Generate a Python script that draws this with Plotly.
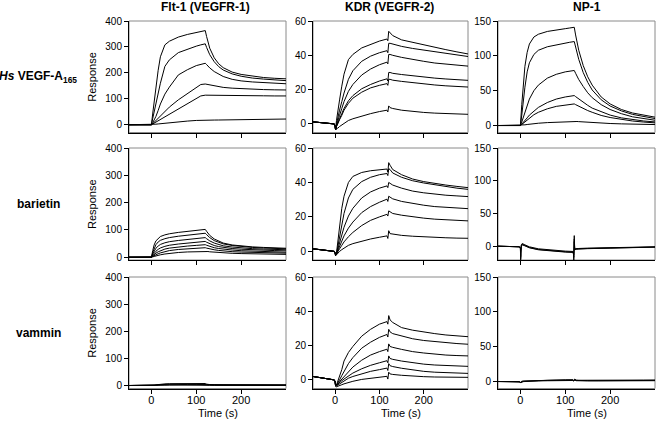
import plotly.graph_objects as go

# ---------------- data ----------------
# time grids (s)
T_SMOOTH = [-50, -10, 0, 3, 6, 10, 15, 20, 30, 40, 60, 80, 100, 110, 120,
            123, 126, 130, 140, 150, 160, 180, 200, 225, 250, 275, 300]
T_KDR = [-50, -40, -30, -20, -10, -2, 0, 1, 3, 6, 10, 15, 20, 30, 40, 60, 80, 100, 117,
         119, 121, 124, 130, 150, 175, 200, 225, 250, 275, 300]
T_NP2 = [-50, -30, -10, -2, 0, 0.5, 1, 2, 4, 10, 20, 40, 60, 80, 100, 117,
         118, 119, 120, 121, 122, 125, 130, 150, 200, 250, 300]

# Flt-1 / Hs VEGF-A165
flt_vegf_1 = [0, 0, 0, 45, 90, 148, 210, 262, 308, 322, 338, 348, 355, 359, 363, 340, 318, 295, 258, 235, 220, 203, 194, 187, 182, 179, 177]
flt_vegf_2 = [0, 0, 0, 25, 50, 85, 125, 160, 225, 250, 278, 292, 303, 308, 312, 298, 285, 270, 243, 224, 211, 196, 187, 180, 176, 173, 170]
flt_vegf_3 = [0, 0, 0, 8, 18, 32, 55, 80, 118, 145, 192, 212, 228, 233, 237, 232, 226, 219, 205, 194, 186, 175, 169, 165, 162, 160, 158]
flt_vegf_4 = [0, 0, 0, 4, 9, 16, 25, 34, 52, 68, 96, 120, 145, 155, 157, 156, 155, 153, 149, 146, 144, 141, 139, 137, 135.5, 134.5, 134]
flt_vegf_5 = [0, 0, 0, 3, 6, 10, 15, 20, 31, 41, 62, 82, 102, 111, 114, 114, 114, 114, 113.5, 113, 113, 112.5, 112, 112, 111.5, 111, 111]
flt_vegf_6 = [0, 0, 0, 0.5, 1, 2, 3, 4, 6, 8, 11, 14, 16.5, 17.5, 18, 18, 18, 18, 18, 18.2, 18.5, 19, 19.5, 20, 20.7, 21.3, 22]

# KDR / Hs VEGF-A165
kdr_base_1 = [1.2, 1.0, 0.6, 0.4, 0.2, 0.0, -1.5, -3.5]
kdr_vegf_1 = [2, 8, 14, 22, 29, 37.5, 40.5, 44.3, 46.3, 48.3, 49.5, 48.5, 54, 53, 51.5, 49, 47.5, 46, 44.5, 43.3, 42, 40.8]
kdr_vegf_2 = [0, 4, 8, 13, 18, 26, 31, 36.5, 39.5, 41.5, 42.7, 41.5, 47, 47, 46.5, 45.2, 44, 43, 42, 41, 40, 39.3]
kdr_vegf_3 = [-1, 2, 5, 9, 13, 19, 23, 28.5, 32, 34.5, 36, 35, 40.5, 40.5, 40, 38.8, 37.5, 36.5, 35.5, 34.8, 34.2, 33.7]
kdr_vegf_4 = [-1.5, 1, 3, 6, 9, 13.5, 16.5, 20.5, 23, 25, 26.3, 25, 30, 30, 29.5, 28.8, 28, 27.3, 26.7, 26.2, 25.8, 25.4]
kdr_vegf_5 = [-1.5, 0.5, 2.5, 5, 8, 12, 15, 18.5, 21, 22.5, 23.5, 22.5, 26, 26, 25.5, 24.8, 24, 23.3, 22.7, 22.2, 21.8, 21.5]
kdr_vegf_6 = [-2.5, -2.5, -1.5, -0.5, 0.5, 2, 3, 4.7, 6, 7.2, 8, 7, 10.5, 9.5, 9, 8, 7.2, 6.7, 6.3, 6, 5.8, 5.6]

# NP-1 / Hs VEGF-A165
np_vegf_1 = [0, 0, 0, 30, 60, 85, 105, 117, 127, 131, 135, 137.5, 139, 140, 141, 130, 120, 108, 86, 70, 58, 41, 31, 23, 18, 14.5, 12]
np_vegf_2 = [0, 0, 0, 15, 35, 55, 77, 90, 102, 108, 113, 116, 118.5, 119.5, 120.5, 112, 104, 95, 76, 62, 51, 37, 28, 21, 16, 12.5, 10]
np_vegf_3 = [0, 0, 0, 5, 11, 19, 29, 38, 50, 58, 68, 73.5, 77, 78, 79, 75, 71, 66, 56, 47, 40, 30, 23, 17, 12.5, 9.5, 7.6]
np_vegf_4 = [0, 0, 0, 2, 4, 7, 11, 15, 21, 26, 33, 38, 41, 42, 43, 41.5, 40, 38, 33, 29, 25, 19.5, 15, 11, 8.5, 6.5, 5.2]
np_vegf_5 = [0, 0, 0, 1.5, 3, 5, 8, 11, 15.5, 19, 24, 27.5, 29.5, 30.3, 31, 30, 29, 27.5, 24.5, 21.5, 19, 14.5, 11.5, 8.5, 6.5, 5, 3.8]
np_vegf_6 = [0, 0, 0, 0.3, 0.6, 1, 1.5, 2, 2.7, 3.3, 4.2, 5, 5.5, 5.8, 6, 5.9, 5.8, 5.6, 5.1, 4.7, 4.2, 3.5, 2.9, 2.4, 2, 1.7, 1.4]

# Flt-1 / barietin
flt_bar_1 = [0, 0, 0, 25, 45, 60, 70, 76, 82, 86, 91, 95, 99, 100.5, 102, 95, 88, 80, 67, 58, 52, 45, 41, 38, 36, 34.5, 33]
flt_bar_2 = [0, 0, 0, 18, 33, 46, 56, 62, 68, 72, 77, 81, 85, 86.5, 88, 83, 78, 72, 61, 54, 49, 43, 39, 36, 34, 32.5, 31]
flt_bar_3 = [0, 0, 0, 12, 23, 33, 41, 47, 53, 57, 61.5, 65, 68.5, 70, 72, 68, 64.5, 60, 52, 46.5, 42, 37.5, 34, 31.5, 30, 28.5, 27.5]
flt_bar_4 = [0, 0, 0, 8, 15, 22, 29, 34, 40, 44, 48.5, 52, 55, 56.5, 58, 55, 52.5, 49, 43, 39, 36, 32, 29.5, 27, 25.5, 24.5, 23.5]
flt_bar_5 = [0, 0, 0, 5, 10, 15, 20, 24, 30, 33.5, 38, 41, 43.5, 45, 46, 44, 42, 39.5, 35, 32, 29.5, 26.5, 24, 22, 20.5, 19.5, 18.5]
flt_bar_6 = [0, 0, 0, 3, 6, 9, 13, 16, 21, 24.5, 28.5, 31, 33, 34, 35, 33.5, 32, 30.5, 27.5, 25, 23, 20.5, 19, 17.5, 16.5, 15.5, 15]
flt_bar_7 = [0, 0, 0, 1.5, 3, 5, 7, 9, 12, 14.5, 17.5, 19.5, 21, 21.5, 22, 21.5, 21, 20, 18.5, 17, 16, 14.5, 13.5, 12.5, 11.5, 11, 10.5]

# KDR / barietin
kdr_base_2 = [1.5, 1.2, 0.6, 0.3, 0.1, 0, -1, -2.3]
kdr_bar_1 = [-1, 6, 16, 25, 32, 40, 43.5, 45.8, 46.8, 47.4, 47.8, 46, 51.5, 50, 47.5, 44.5, 42, 40.5, 39.3, 38.5, 37.7, 37]
kdr_bar_2 = [-1.5, 3, 9, 16, 22, 31, 36, 40.5, 43, 44.5, 45.2, 44, 48, 47.5, 45.5, 43, 41, 39.7, 38.7, 37.5, 36.7, 36]
kdr_bar_3 = [-1.5, 1.5, 5, 10, 14, 20.5, 25, 31, 34.5, 36.7, 38, 37, 40, 39.5, 38.5, 36.7, 35, 34, 33.2, 32.6, 32.2, 31.8]
kdr_bar_4 = [-1.5, 0.5, 3, 6, 9, 13.5, 17, 22.5, 26, 28.5, 30.3, 29, 32, 31.5, 30.5, 29, 27.7, 26.8, 26, 25.5, 25.1, 24.8]
kdr_bar_5 = [-1.5, 0, 1.5, 3.5, 5.5, 8.5, 11, 15, 18, 20, 21.5, 20.5, 23.5, 23, 22, 21, 20, 19.3, 18.7, 18.3, 18, 17.7]
kdr_bar_6 = [-2, -1, 0, 1, 2, 3.5, 4.5, 6, 7.2, 8.2, 9, 7.5, 12, 10.3, 10, 9.3, 8.8, 8.4, 8.1, 7.9, 7.7, 7.6]

# NP-1 / barietin
np_bar_1 = [1, 0.5, 0.3, 0, -3, -22, -10, 3, 5, 3, 0, -3, -4.5, -5.5, -6.5, -7, -8, -20, 17, -4, -3, -2.5, -2.5, -2, -1, -0.5, 0]
np_bar_2 = [1, 0.5, 0.3, 0, -2, -18, -8, 2, 4, 2, -1, -4, -5.5, -6.5, -7.5, -8, -9, -16, 12, -4, -3.5, -3, -3, -2.5, -1.5, -1, -0.3]
np_bar_3 = [1, 0.5, 0.3, 0, -2, -15, -6, 1, 3, 1.5, -1.5, -4.5, -6, -7, -8, -8.5, -9.5, -12, 8, -5, -4, -3.5, -3.3, -2.8, -2, -1.2, -0.5]

# Flt-1 / vammin
flt_vam_1 = [1, 0.5, 0, 1, 2, 3.5, 5, 6, 7, 7.5, 8, 8, 8.2, 8.3, 8.3, 6, 5, 4.5, 4, 3.8, 3.7, 3.5, 3.4, 3.3, 3.2, 3.2, 3.2]
flt_vam_2 = [1, 0.5, 0, 0.8, 1.5, 2.5, 3.5, 4.5, 5.5, 6, 6.5, 6.7, 6.8, 6.9, 7, 5, 4.2, 3.8, 3.4, 3.2, 3.1, 3, 2.9, 2.8, 2.8, 2.8, 2.8]
flt_vam_3 = [1, 0.5, 0, 0.5, 1, 1.7, 2.5, 3, 3.7, 4.2, 4.6, 4.9, 5.1, 5.2, 5.3, 3.8, 3.2, 2.8, 2.5, 2.4, 2.3, 2.2, 2.1, 2.1, 2.1, 2.1, 2.1]
flt_vam_4 = [1, 0.5, 0, 0.3, 0.6, 1, 1.4, 1.8, 2.3, 2.6, 3, 3.2, 3.4, 3.5, 3.6, 2.5, 2, 1.8, 1.6, 1.5, 1.5, 1.4, 1.4, 1.4, 1.4, 1.4, 1.4]

# KDR / vammin
kdr_base_3 = [2, 1.6, 0.8, 0.6, 0.4, 0, -1, -3.5]
kdr_vam_1 = [-3, -1, 2, 6, 11, 16, 19.5, 25.5, 29.5, 32.5, 34, 32.5, 37.5, 35, 33.5, 30.5, 29, 27.9, 27, 26.2, 25.6, 25.2]
kdr_vam_2 = [-3, -2, 0, 2.5, 5, 9.5, 13, 18.5, 22, 24.8, 26.5, 25, 29.5, 28, 27, 25.5, 24, 23, 22.3, 21.7, 21.2, 20.8]
kdr_vam_3 = [-3, -2.5, -1, 0.5, 2, 5, 7.5, 11.5, 14.5, 16.5, 17.9, 16.5, 21, 19.5, 19, 17.8, 16.5, 15.7, 15, 14.5, 14.2, 14]
kdr_vam_4 = [-3, -2.5, -1.5, -0.5, 0.5, 2.5, 4, 6.5, 8.5, 10, 11.2, 10, 14, 12.5, 12, 11, 10, 9.2, 8.7, 8.3, 8, 7.9]
kdr_vam_5 = [-3.5, -3, -2, -1.2, -0.5, 1, 2, 3.7, 5, 6, 6.9, 5.5, 9.5, 8.3, 7.8, 6.8, 5.8, 5, 4.5, 4.2, 4, 3.8]
kdr_vam_6 = [-4, -3.8, -3.3, -2.8, -2.3, -1.5, -0.8, 0.3, 1, 1.6, 2.1, 0.5, 4.5, 3.5, 3.2, 2.7, 2.2, 1.9, 1.7, 1.6, 1.5, 1.5]

# NP-1 / vammin
np_vam_1 = [0, 0, 0, 0, 0, 0, -2, -0.5, 0.5, 0.7, 0.8, 1, 1.2, 1.5, 1.8, 2.1, 2.3, 2.5, 2.6, 1.5, 3.5, 2, 1.8, 1.7, 1.7, 1.8, 1.9, 2, 2.1, 2.2]
np_vam_2 = [0, 0, 0, 0, 0, 0, -1.5, -1, 0, 0.3, 0.5, 0.7, 0.9, 1.2, 1.4, 1.7, 1.9, 2, 2.1, 1, 2.8, 1.6, 1.4, 1.3, 1.3, 1.4, 1.5, 1.5, 1.6, 1.6]
np_vam_3 = [0, 0, 0, 0, 0, 0, -1, -1.5, -0.5, -0.2, 0, 0.3, 0.5, 0.7, 0.9, 1.1, 1.3, 1.4, 1.5, 0.5, 2.2, 1.2, 1, 0.9, 0.9, 1, 1, 1.1, 1.1, 1.2]

col_titles = ["Flt-1 (VEGFR-1)", "KDR (VEGFR-2)", "NP-1"]
row_titles = ["<i>Hs</i> VEGF-A<sub>165</sub>", "barietin", "vammin"]
x_ticks = [0, 100, 200]

# ---------------- layout ----------------
W, H = 656, 421
FONT = "Liberation Sans, Arial, sans-serif"
col_px = [(129, 286), (313, 468), (498, 655)]
row_px = [(21, 132.5), (148, 260), (277, 388.5)]
yranges = [[(-30, 400), (-5, 60), (-10, 150)],
           [(-10, 400), (-5, 60), (-20, 150)],
           [(-10, 400), (-5, 60), (-10, 150)]]
ydtick = [100, 20, 50]


def kdr(base, vals):
    return base + vals


panels = [
    [(T_SMOOTH, [flt_vegf_1, flt_vegf_2, flt_vegf_3, flt_vegf_4, flt_vegf_5, flt_vegf_6]),
     (T_KDR, [kdr(kdr_base_1, v) for v in [kdr_vegf_1, kdr_vegf_2, kdr_vegf_3, kdr_vegf_4, kdr_vegf_5, kdr_vegf_6]]),
     (T_SMOOTH, [np_vegf_1, np_vegf_2, np_vegf_3, np_vegf_4, np_vegf_5, np_vegf_6])],
    [(T_SMOOTH, [flt_bar_1, flt_bar_2, flt_bar_3, flt_bar_4, flt_bar_5, flt_bar_6, flt_bar_7]),
     (T_KDR, [kdr(kdr_base_2, v) for v in [kdr_bar_1, kdr_bar_2, kdr_bar_3, kdr_bar_4, kdr_bar_5, kdr_bar_6]]),
     (T_NP2, [np_bar_1, np_bar_2, np_bar_3])],
    [(T_SMOOTH, [flt_vam_1, flt_vam_2, flt_vam_3, flt_vam_4]),
     (T_KDR, [kdr(kdr_base_3, v) for v in [kdr_vam_1, kdr_vam_2, kdr_vam_3, kdr_vam_4, kdr_vam_5, kdr_vam_6]]),
     (T_KDR, [np_vam_1, np_vam_2, np_vam_3])],
]

fig = go.Figure()
layout = dict(width=W, height=H, margin=dict(l=0, r=0, t=0, b=0, autoexpand=False),
              paper_bgcolor="white", plot_bgcolor="white", showlegend=False,
              font=dict(family=FONT, color="black"))
shapes = []
annotations = []


def label(text, x, y, size, angle=0):
    return dict(text=text, x=x / W, y=1 - y / H, xref="paper", yref="paper",
                xanchor="center", yanchor="middle", showarrow=False, textangle=angle,
                font=dict(size=size, family=FONT, color="black"))


idx = 0
for r in range(3):
    for c in range(3):
        idx += 1
        sfx = "" if idx == 1 else str(idx)
        xa, ya = "x" + sfx, "y" + sfx
        t, curves = panels[r][c]
        for v in curves:
            fig.add_trace(go.Scatter(x=t, y=v, xaxis=xa, yaxis=ya, mode="lines",
                                     line=dict(color="black", width=1), hoverinfo="skip"))
        x0, x1 = col_px[c]
        y0, y1 = row_px[r]
        layout["xaxis" + sfx] = dict(
            domain=[x0 / W, x1 / W], range=[-50, 300], anchor=ya,
            tickmode="array", tickvals=x_ticks,
            showticklabels=(r == 2), ticks="outside", ticklen=4, tickcolor="black",
            ticklabelstandoff=-3,
            showline=True, linecolor="black", linewidth=1, showgrid=False, zeroline=False,
            tickfont=dict(size=11, family=FONT, color="black"), fixedrange=True,
            automargin=False)
        layout["yaxis" + sfx] = dict(
            domain=[1 - y1 / H, 1 - y0 / H], range=list(yranges[r][c]), anchor=xa,
            dtick=ydtick[c], tick0=0, ticks="outside", ticklen=4, tickcolor="black",
            showline=True, linecolor="black", linewidth=1, showgrid=False, zeroline=False,
            tickfont=dict(size=10, family=FONT, color="black"), fixedrange=True,
            automargin=False)
        shapes.append(dict(type="rect", xref=xa + " domain", yref=ya + " domain",
                           x0=0, x1=1, y0=0, y1=1, line=dict(color="#8a8a8a", width=1),
                           layer="below"))
        if c == 0:
            annotations.append(label("Response", 92, (y0 + y1) / 2, 11, -90))
            annotations.append(label("<b>" + row_titles[r] + "</b>", 38, (y0 + y1) / 2, 12))
        if r == 2:
            annotations.append(label("Time (s)", (x0 + 20 + x1) / 2, 413, 11))

title_x = [205, 389, 587]
for c in range(3):
    annotations.append(label("<b>" + col_titles[c] + "</b>", title_x[c], 7, 12))

layout["shapes"] = shapes
layout["annotations"] = annotations
fig.update_layout(**layout)
fig.write_html("out.html", config={"displayModeBar": False, "staticPlot": True},
               post_script="document.body.style.margin='0';document.body.style.overflow='hidden';")
